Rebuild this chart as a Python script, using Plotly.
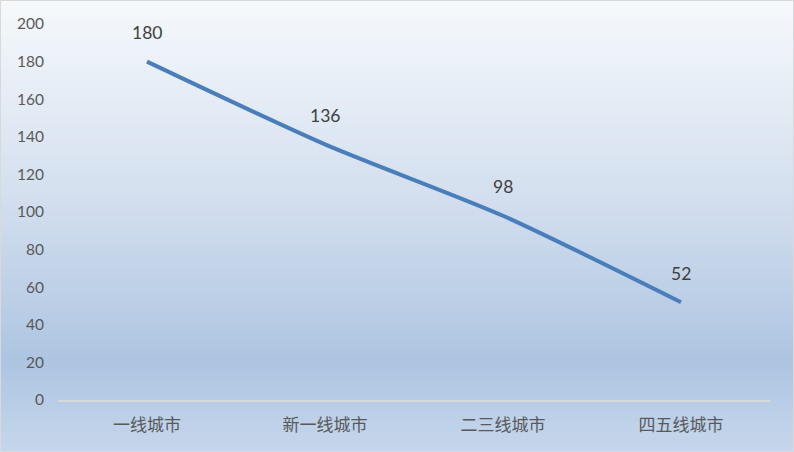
"""城市等级折线图 (Plotly)。"""

import plotly.graph_objs as go

categories = ["一线城市", "新一线城市", "二三线城市", "四五线城市"]
values = [180, 136, 98, 52]
y_ticks = list(range(0, 201, 20))

# 背景渐变色标 (自上而下)
grad_stops = [(0.0, (246, 249, 252)), (0.45, (210, 222, 238)),
              (0.80, (173, 197, 225)), (1.0, (198, 215, 236))]

W, H = 794, 452
ML, MR, MT, MB = 58, 24, 24, 52


def lerp_color(t):
    for (t0, c0), (t1, c1) in zip(grad_stops[:-1], grad_stops[1:]):
        if t0 <= t <= t1:
            f = (t - t0) / (t1 - t0) if t1 > t0 else 0
            c = [round(a + (b - a) * f) for a, b in zip(c0, c1)]
            return "rgb(%d,%d,%d)" % tuple(c)
    return "rgb(%d,%d,%d)" % grad_stops[-1][1]


fig = go.Figure()
fig.add_trace(go.Scatter(
    x=categories,
    y=values,
    mode="lines",
    line=dict(color="#4a7ebb", width=4, shape="spline", smoothing=0.7),
    hoverinfo="x+y",
    showlegend=False,
))

for c, v in zip(categories, values):
    fig.add_annotation(x=c, y=v, text=str(v), showarrow=False, yshift=29,
                       font=dict(family="Lato, Noto Sans CJK SC", size=17.5, color="#404040"))

# 渐变背景: 细条矩形拼接
pw, ph = W - ML - MR, H - MT - MB
n = 90
shapes = []
for i in range(n):
    top_px = H * i / n
    bot_px = H * (i + 1) / n + 1
    shapes.append(dict(
        type="rect", xref="paper", yref="paper", layer="below",
        x0=-ML / pw, x1=1 + MR / pw,
        y0=1 - (bot_px - MT) / ph, y1=1 - (top_px - MT) / ph,
        line=dict(width=0), fillcolor=lerp_color((i + 0.5) / n),
    ))
# 外边框
shapes.append(dict(type="rect", xref="paper", yref="paper", layer="above",
                   x0=-ML / pw + 0.5 / pw, x1=1 + MR / pw - 0.5 / pw,
                   y0=-MB / ph + 0.5 / ph, y1=1 + MT / ph - 0.5 / ph,
                   line=dict(color="#d9d9d9", width=1)))

fig.update_layout(
    width=W, height=H,
    margin=dict(l=ML, r=MR, t=MT, b=MB),
    paper_bgcolor="rgba(0,0,0,0)",
    plot_bgcolor="rgba(0,0,0,0)",
    shapes=shapes,
    font=dict(family="Lato, Noto Sans CJK SC", size=15, color="#595959"),
    xaxis=dict(
        range=[-0.5, 3.5], showgrid=False, zeroline=False,
        showline=True, linecolor="#d9d9d9", linewidth=1.5,
        ticks="", fixedrange=True, ticklabelstandoff=9,
        tickfont=dict(family="Noto Sans CJK SC", size=17, color="#595959"),
    ),
    yaxis=dict(
        range=[0, 200], tickvals=y_ticks, showgrid=False, zeroline=False,
        showline=False, ticks="", ticklabelstandoff=13, fixedrange=True,
        tickfont=dict(family="Lato, Noto Sans CJK SC", size=15.5, color="#595959"),
    ),
)

# 去掉页面默认边距, 让图表贴满窗口
fig.write_html("out.html", config={"displayModeBar": False},
               post_script="document.body.style.margin='0';")
